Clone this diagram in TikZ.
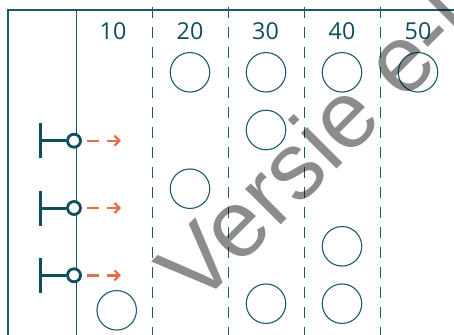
\documentclass[tikz,border=0pt]{standalone}
\usepackage{fontspec}
\setmainfont{Open Sans}
\newfontfamily\wmfont{Liberation Sans}
\usetikzlibrary{arrows.meta}
\definecolor{teal1}{HTML}{0F4E5E}
\definecolor{tealline}{HTML}{1B5A6B}
\definecolor{orange1}{HTML}{E2704A}
\tikzset{
  frameline/.style={draw=tealline,line width=2pt},
  solidline/.style={draw=tealline,line width=1.3pt},
  colline/.style={draw=tealline,line width=1.3pt,dash pattern=on 11pt off 9pt},
  poscirc/.style={draw=tealline,line width=1.1pt,circle,minimum size=39.5pt,inner sep=0pt},
  numlabel/.style={text=teal1,font=\fontsize{23.3}{26}\selectfont,anchor=base,inner sep=0pt},
  swcirc/.style={draw=teal1,line width=2.8pt,circle,minimum size=13pt,inner sep=0pt,fill=white},
  swline/.style={draw=teal1,line width=3pt},
  movearrow/.style={draw=orange1,line width=2.4pt,dash pattern=on 12pt off 8pt,-{Straight Barb[length=5pt,width=10pt,line width=2.2pt]}},
  watermark/.style={text=black,text opacity=0.45,font=\wmfont\fontsize{95}{95}\selectfont,rotate=45,anchor=base west,inner sep=0pt},
}
\begin{document}
\begin{tikzpicture}[x=1pt,y=-1pt]
\useasboundingbox (0,0) rectangle (454,334);
\clip (0,0) rectangle (454,334);
% frame
\coordinate (ftl) at (7.5,10);
\coordinate (ftr) at (456,10);
\coordinate (fbl) at (7.5,336);
\draw[frameline] (ftr) -- (ftl) -- (fbl);
% solid line
\coordinate (st) at (76.5,10);
\coordinate (sb) at (76.5,336);
\draw[solidline] (st) -- (sb);
% dashed column lines
\foreach \x [count=\i] in {152.5,228.5,304.5,380.5}{
  \coordinate (dt\i) at (\x,7);
  \coordinate (db\i) at (\x,336);
  \draw[colline] (dt\i) -- (db\i);
}
% numbers
\node[numlabel] (n10) at (113,39.3) {10};
\node[numlabel] (n20) at (190,39.3) {20};
\node[numlabel] (n30) at (265.5,39.3) {30};
\node[numlabel] (n40) at (342,39.3) {40};
\node[numlabel] (n50) at (418,39.3) {50};
% positions
\node[poscirc] (p20a) at (190,72.3) {};
\node[poscirc] (p30a) at (266,72.3) {};
\node[poscirc] (p40a) at (342,72.3) {};
\node[poscirc] (p50a) at (418,72.3) {};
\node[poscirc] (p30b) at (266,130) {};
\node[poscirc] (p20c) at (190,188.7) {};
\node[poscirc] (p40d) at (342,246.3) {};
\node[poscirc] (p30e) at (266,303.7) {};
\node[poscirc] (p40e) at (342,303.7) {};
\node[poscirc] (p10e) at (116.7,310.3) {};
% switches
\foreach \y [count=\i] in {140.7,208,275.3}{
  \node[swcirc] (sc\i) at (74,\y) {};
  \coordinate (sbt\i) at (40,\y-17.5);
  \coordinate (sbb\i) at (40,\y+17.5);
  \coordinate (sbm\i) at (40,\y);
  \draw[swline] (sbt\i) -- (sbb\i);
  \draw[swline] (sbm\i) -- (sc\i.west);
  \coordinate (ae\i) at (121,\y);
  \coordinate (as\i) at (87.3,\y);
  \draw[movearrow] (as\i) -- (ae\i);
}
% watermark
\node[watermark] (wm) at (197.6,308.4) {Versie e-l};
\end{tikzpicture}
\end{document}
